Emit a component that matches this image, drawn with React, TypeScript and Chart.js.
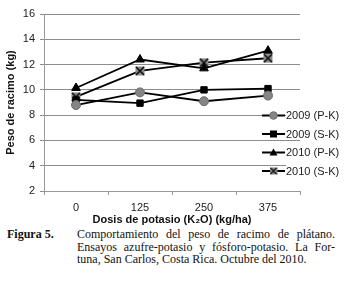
import React, { useEffect, useRef } from "react";
import { Chart, registerables } from "chart.js";

Chart.register(...registerables);

const categories = ["0", "125", "250", "375"];
const seriesNames = ["2009 (P-K)", "2009 (S-K)", "2010 (P-K)", "2010 (S-K)"];
const pk2009 = [8.8, 9.8, 9.1, 9.55];
const sk2009 = [9.2, 8.95, 10.0, 10.1];
const pk2010 = [10.15, 12.4, 11.7, 13.1];
const sk2010 = [9.45, 11.5, 12.15, 12.5];
const yTicks = [2, 4, 6, 8, 10, 12, 14, 16];

const FONT = "'Liberation Sans', 'DejaVu Sans', Arial, sans-serif";

function makeCrossMarker(): HTMLCanvasElement {
  const c = document.createElement("canvas");
  c.width = 10;
  c.height = 10;
  const g = c.getContext("2d")!;
  g.fillStyle = "#8a8a8a";
  g.fillRect(0.5, 0.5, 9, 9);
  g.strokeStyle = "#111";
  g.lineWidth = 1.6;
  g.beginPath();
  g.moveTo(1, 1);
  g.lineTo(9, 9);
  g.moveTo(9, 1);
  g.lineTo(1, 9);
  g.stroke();
  return c;
}

export default function App() {
  const ref = useRef<HTMLCanvasElement>(null);

  useEffect(() => {
    document.body.style.margin = "0";
    const cross = makeCrossMarker();
    const styles = [
      { pointStyle: "circle" as any, bg: "#858585", border: "#6a6a6a", r: 4.5 },
      { pointStyle: "rect" as any, bg: "#000", border: "#000", r: 4.5 },
      { pointStyle: "triangle" as any, bg: "#000", border: "#000", r: 5 },
      { pointStyle: cross as any, bg: "#888", border: "#000", r: 5 },
    ];
    const values = [pk2009, sk2009, pk2010, sk2010];

    const legendPlugin = {
      id: "customLegend",
      afterDraw(chart: any) {
        const ctx = chart.ctx;
        const ys = [115.5, 134, 152.5, 171];
        ctx.save();
        ys.forEach((y, i) => {
          const s = styles[i];
          ctx.fillStyle = "#fff";
          ctx.fillRect(286, y - 6, 50, 12);
          ctx.strokeStyle = "#000";
          ctx.lineWidth = 2;
          ctx.beginPath();
          ctx.moveTo(262, y);
          ctx.lineTo(285, y);
          ctx.stroke();
          const cx = 273.5;
          ctx.fillStyle = s.bg;
          ctx.strokeStyle = s.border;
          ctx.lineWidth = 1;
          if (i === 0) {
            ctx.beginPath();
            ctx.arc(cx, y, 3.8, 0, Math.PI * 2);
            ctx.fill();
            ctx.stroke();
          } else if (i === 1) {
            ctx.fillRect(cx - 3.5, y - 3.5, 7, 7);
          } else if (i === 2) {
            ctx.beginPath();
            ctx.moveTo(cx, y - 4);
            ctx.lineTo(cx + 4, y + 3);
            ctx.lineTo(cx - 4, y + 3);
            ctx.closePath();
            ctx.fill();
          } else {
            ctx.drawImage(cross, cx - 4, y - 4, 8, 8);
          }
          ctx.fillStyle = "#222";
          ctx.font = `11px ${FONT}`;
          ctx.textBaseline = "middle";
          ctx.textAlign = "left";
          ctx.fillText(seriesNames[i], 286, y + 0.5);
        });
        ctx.restore();
      },
    };

    const chart = new Chart(ref.current!, {
      type: "line",
      data: {
        labels: categories,
        datasets: values.map((v, i) => ({
          label: seriesNames[i],
          data: v,
          borderColor: "#000",
          borderWidth: 1.8,
          backgroundColor: styles[i].bg,
          pointBackgroundColor: styles[i].bg,
          pointBorderColor: styles[i].border,
          pointBorderWidth: 1,
          pointStyle: styles[i].pointStyle,
          pointRadius: styles[i].r,
          tension: 0,
          fill: false,
        })),
      },
      options: {
        responsive: false,
        animation: false,
        devicePixelRatio: 1,
        layout: { padding: { top: 14, right: 53, left: 0, bottom: 0 } },
        plugins: { legend: { display: false }, tooltip: { enabled: false } },
        scales: {
          x: {
            type: "category",
            offset: true,
            grid: {
              offset: true,
              drawOnChartArea: false,
              drawTicks: true,
              tickLength: 4,
              color: "#999",
            },
            border: { color: "#999", width: 1 },
            ticks: { color: "#222", font: { family: FONT, size: 11 }, padding: 6 },
            title: {
              display: true,
              text: "Dosis de potasio (K₂O) (kg/ha)",
              color: "#111",
              font: { family: FONT, size: 11, weight: "bold" },
              padding: { top: 2, bottom: 0 },
            },
            afterFit(scale: any) {
              scale.height = 36;
            },
          },
          y: {
            min: 2,
            max: 16,
            afterBuildTicks(scale: any) {
              scale.ticks = yTicks.map((v) => ({ value: v }));
            },
            grid: { color: "#8c8c8c", tickLength: 4, lineWidth: 1 },
            border: { color: "#999", width: 1 },
            ticks: { color: "#222", font: { family: FONT, size: 11 }, padding: 5 },
            title: {
              display: true,
              text: "Peso de racimo (kg)",
              color: "#111",
              font: { family: FONT, size: 11, weight: "bold" },
              padding: { top: 4, bottom: 0 },
            },
            afterFit(scale: any) {
              scale.width = 44;
            },
          },
        },
      },
      plugins: [legendPlugin],
    } as any);
    return () => chart.destroy();
  }, []);

  return (
    <div style={{ width: 353, height: 305, background: "#fff", position: "relative" }}>
      <canvas ref={ref} width={353} height={227} style={{ display: "block" }} />
      <div
        style={{
          position: "absolute",
          top: 228,
          left: 0,
          width: 353,
          fontFamily: "'Liberation Serif', 'Times New Roman', serif",
          fontSize: 12,
          lineHeight: "12.5px",
          color: "#111",
        }}
      >
        <div style={{ position: "absolute", left: 7, top: 0, fontWeight: "bold" }}>Figura 5.</div>
        <div style={{ position: "absolute", left: 77, top: 0, width: 258, textAlign: "justify" }}>
          Comportamiento del peso de racimo de plátano. Ensayos azufre-potasio y fósforo-potasio. La For-tuna, San Carlos, Costa Rica. Octubre del 2010.
        </div>
      </div>
    </div>
  );
}
